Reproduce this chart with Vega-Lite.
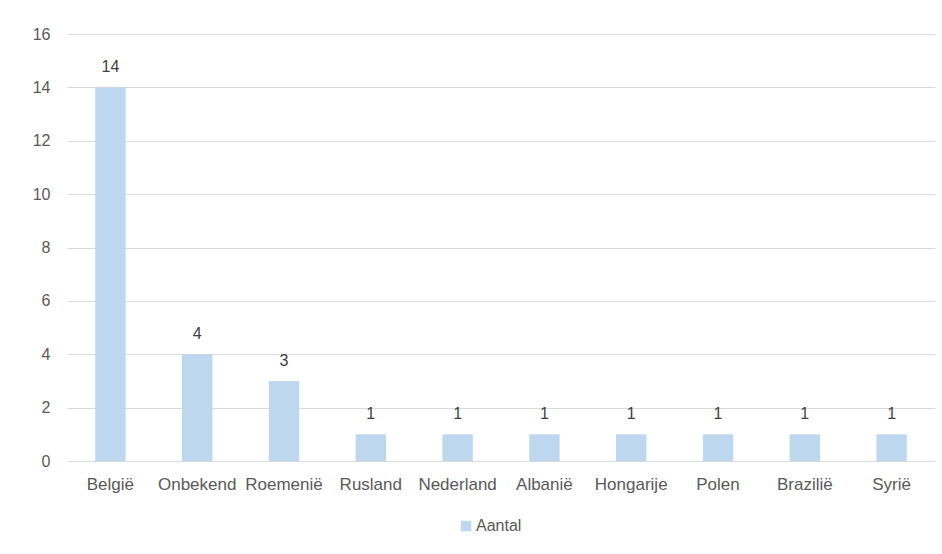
{
  "$schema": "https://vega.github.io/schema/vega-lite/v6.json",
  "width": 868,
  "height": 427,
  "autosize": {"type": "none"},
  "padding": {"left": 67, "top": 34, "right": 7, "bottom": 93},
  "background": "white",
  "config": {
    "view": {"stroke": null},
    "font": "Liberation Sans",
    "axis": {"labelFont": "Liberation Sans", "labelColor": "#595959", "labelFontSize": 16}
  },
  "data": {
    "values": [
      {"land": "België", "Aantal": 14, "serie": "Aantal"},
      {"land": "Onbekend", "Aantal": 4, "serie": "Aantal"},
      {"land": "Roemenië", "Aantal": 3, "serie": "Aantal"},
      {"land": "Rusland", "Aantal": 1, "serie": "Aantal"},
      {"land": "Nederland", "Aantal": 1, "serie": "Aantal"},
      {"land": "Albanië", "Aantal": 1, "serie": "Aantal"},
      {"land": "Hongarije", "Aantal": 1, "serie": "Aantal"},
      {"land": "Polen", "Aantal": 1, "serie": "Aantal"},
      {"land": "Brazilië", "Aantal": 1, "serie": "Aantal"},
      {"land": "Syrië", "Aantal": 1, "serie": "Aantal"}
    ]
  },
  "encoding": {
    "x": {
      "field": "land", "type": "nominal", "sort": null,
      "scale": {"paddingInner": 0.65, "paddingOuter": 0.325},
      "axis": {"title": null, "labelAngle": 0, "domain": false, "ticks": false, "labelPadding": 15, "grid": false, "labelFontSize": 17}
    },
    "y": {
      "field": "Aantal", "type": "quantitative",
      "scale": {"domain": [0, 16]},
      "axis": {"title": null, "values": [0, 2, 4, 6, 8, 10, 12, 14, 16], "domain": false, "ticks": false, "labelPadding": 17, "gridColor": "#D9D9D9", "gridWidth": 1}
    }
  },
  "layer": [
    {
      "mark": {"type": "bar", "color": "#BDD7EE"},
      "encoding": {
        "color": {
          "field": "serie", "type": "nominal",
          "scale": {"range": ["#BDD7EE"]},
          "legend": {
            "title": null, "orient": "none", "legendX": 391, "legendY": 484,
            "symbolType": "square", "symbolSize": 110, "labelFontSize": 16,
            "labelColor": "#595959", "labelFont": "Liberation Sans", "symbolOffset": 0, "labelOffset": 2
          }
        }
      }
    },
    {
      "mark": {"type": "text", "dy": -20, "fontSize": 16, "color": "#404040", "font": "Liberation Sans"},
      "encoding": {"text": {"field": "Aantal", "type": "quantitative"}}
    }
  ]
}
